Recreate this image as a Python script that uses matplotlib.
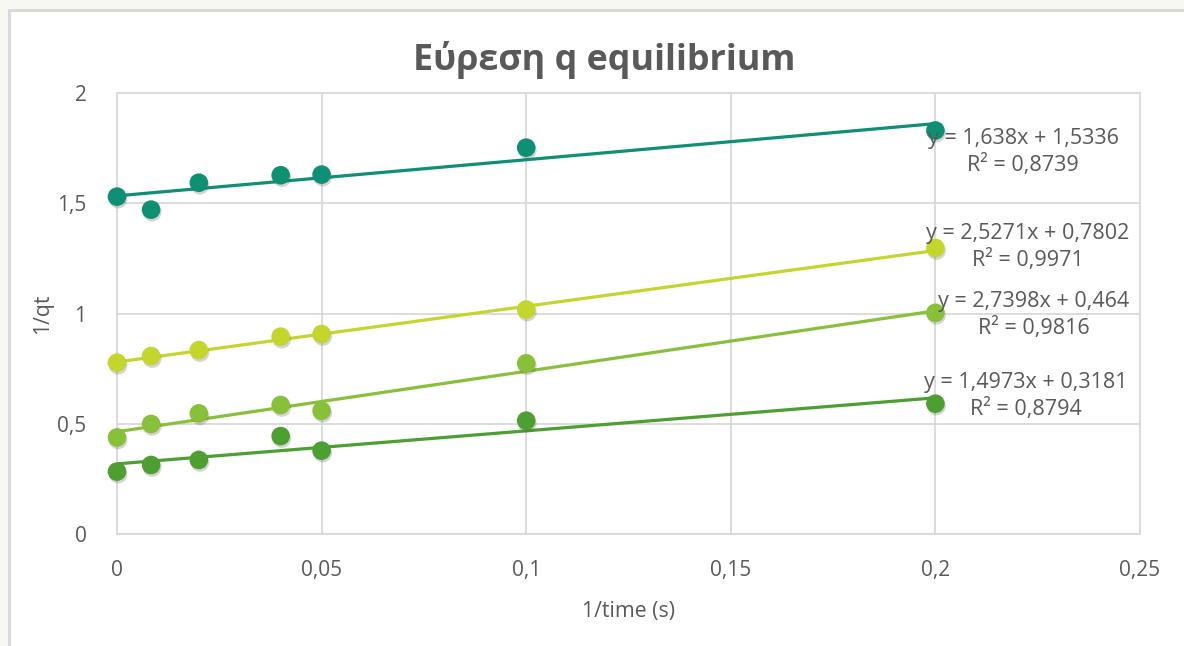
import matplotlib
matplotlib.use("Agg")
import matplotlib.pyplot as plt
import matplotlib.patheffects as pe
from matplotlib.patches import Rectangle
from matplotlib.ticker import FuncFormatter

plt.rcParams['font.family'] = ['Open Sans', 'DejaVu Sans']

# 1/time values (s^-1)
x_vals = [0.0, 1 / 120, 0.02, 0.04, 0.05, 0.1, 0.2]

# 1/qt for each run
series_a = [1.530, 1.471, 1.593, 1.627, 1.630, 1.752, 1.830]
series_b = [0.777, 0.807, 0.834, 0.895, 0.907, 1.018, 1.297]
series_c = [0.438, 0.499, 0.547, 0.585, 0.559, 0.774, 1.003]
series_d = [0.283, 0.313, 0.336, 0.444, 0.378, 0.514, 0.591]

# linear trendline parameters (slope, intercept, R^2)
slopes = [1.638, 2.5271, 2.7398, 1.4973]
intercepts = [1.5336, 0.7802, 0.464, 0.3181]
r_squared = [0.8739, 0.9971, 0.9816, 0.8794]

colors = ['#0f8f74', '#c4d52e', '#88c03a', '#4c9f30']
series = [series_a, series_b, series_c, series_d]
label_pos = [(0.2214, 1.732), (0.2226, 1.302), (0.2241, 0.993), (0.2221, 0.626)]

W, H = 1184, 646
fig = plt.figure(figsize=(W / 100, H / 100), dpi=100)
fig.patch.set_facecolor('#f7f8f2')

# white chart panel with a light border
panel = Rectangle((9 / W, -0.05), 1.05, 1 - 10 / H + 0.05, transform=fig.transFigure,
                  facecolor='white', edgecolor='#d9d9d9', linewidth=2.2, zorder=-5)
fig.patches.append(panel)

ax = fig.add_axes([117 / W, 1 - 534 / H, (1140 - 117) / W, (534 - 93) / H])
ax.set_zorder(1)
ax.set_facecolor('white')
ax.set_xlim(0, 0.25)
ax.set_ylim(0, 2)
ax.set_xticks([0, 0.05, 0.1, 0.15, 0.2, 0.25])
ax.set_yticks([0, 0.5, 1, 1.5, 2])

def comma_fmt(v, _):
    s = f"{v:.2f}".rstrip('0').rstrip('.')
    return s.replace('.', ',')

ax.xaxis.set_major_formatter(FuncFormatter(comma_fmt))
ax.yaxis.set_major_formatter(FuncFormatter(comma_fmt))
ax.grid(True, color='#d9d9d9', linewidth=1.3)
ax.set_axisbelow(True)
for sp in ax.spines.values():
    sp.set_color('#d9d9d9')
    sp.set_linewidth(1.3)
ax.tick_params(length=0, labelsize=15, colors='#595959')
ax.tick_params(axis='x', pad=19)
ax.tick_params(axis='y', pad=22)

shadow = [pe.SimplePatchShadow(offset=(0.8, -1.8), shadow_rgbFace='#555555', alpha=0.25), pe.Normal()]

for ys, c, m, b, r2, (lx, ly) in zip(series, colors, slopes, intercepts, r_squared, label_pos):
    xs_line = [0.0, max(x_vals)]
    ax.plot(xs_line, [b + m * xv for xv in xs_line], color=c, linewidth=2.3, zorder=2,
            solid_capstyle='butt')
    sc = ax.scatter(x_vals, ys, s=180, color=c, edgecolors='none', zorder=3, clip_on=False)
    sc.set_path_effects(shadow)
    eq = f"y = {m:g}x + {b:g}".replace('.', ',')
    rr = f"R² = {r2:g}".replace('.', ',')
    ax.text(lx, ly, eq + "\n" + rr, ha='center', va='center', fontsize=15.5,
            color='#595959', linespacing=1.25, zorder=4)

ax.set_xlabel('1/time (s)', fontsize=15.3, color='#595959', labelpad=14)
ax.set_ylabel('1/qt', fontsize=15.3, color='#595959', labelpad=3)

fig.text(604 / W, 1 - 60 / H, 'Εύρεση q equilibrium', ha='center', va='center',
         fontsize=25.8, fontweight='bold', color='#595959')

fig.savefig('out.png', dpi=100, facecolor=fig.get_facecolor())
